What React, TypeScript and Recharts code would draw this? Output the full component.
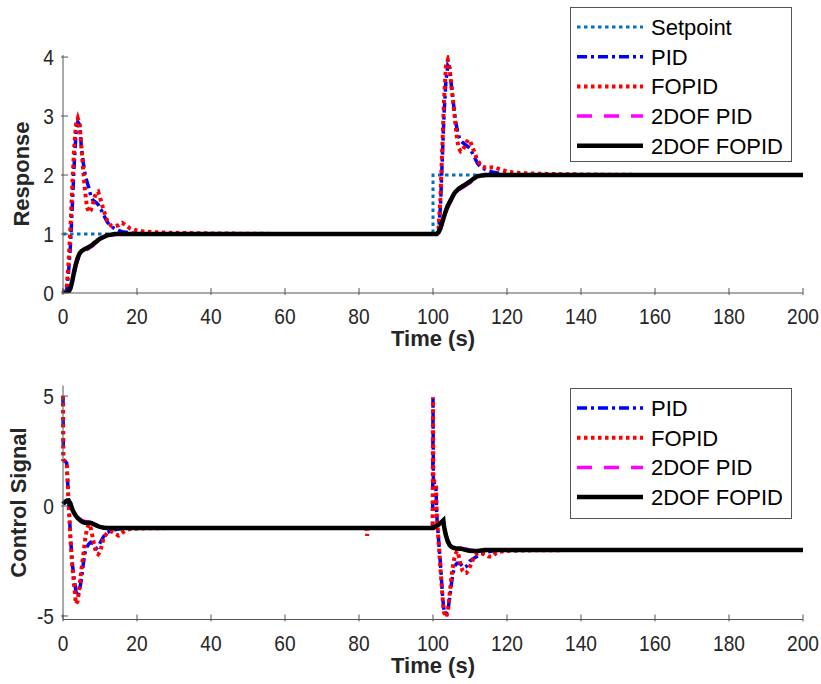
import React from 'react';
import { LineChart, Line, XAxis, YAxis, Legend } from 'recharts';

// ticks
const timeTicks = [0, 20, 40, 60, 80, 100, 120, 140, 160, 180, 200];
const responseTicks = [0, 1, 2, 3, 4];
const controlTicks = [-5, 0, 5];

// setpoint (step at t = 100)
const setpointTime = [0, 100, 100, 200];
const setpointValue = [1, 1, 2, 2];

// step responses
const responseTime = [
  0, 1, 1.5, 2, 2.5, 3, 3.5, 4, 4.5, 5, 5.5, 6, 6.5, 7, 7.5, 8, 8.5, 9, 9.5, 10,
  11, 12, 13, 14, 15, 16, 17, 18,
  20, 22, 25, 30, 40, 60, 80, 100,
  101, 101.5, 102, 102.5, 103, 103.5, 104, 104.5, 105, 105.5, 106, 106.5, 107, 107.5, 108, 108.5, 109, 109.5, 110,
  111, 112, 113, 114, 115, 116, 117, 118,
  120, 122, 125, 130, 140, 160, 180, 200,
];
const pidResponse = [
  0, 0.05, 0.35, 0.8, 1.45, 2.15, 2.7, 2.9, 2.85, 2.45, 2.2, 2.0, 1.88, 1.78, 1.65, 1.58, 1.55, 1.53, 1.5, 1.45,
  1.32, 1.2, 1.13, 1.09, 1.06, 1.04, 1.03, 1.02,
  1.01, 1, 1, 1, 1, 1, 1, 1,
  1, 1.05, 1.45, 2.25, 3.05, 3.6, 3.86, 3.82, 3.5, 3.23, 2.95, 2.78, 2.65, 2.58, 2.55, 2.53, 2.5, 2.48, 2.45,
  2.33, 2.2, 2.13, 2.1, 2.07, 2.05, 2.04, 2.03,
  2.01, 2, 2, 2, 2, 2, 2, 2,
];
const fopidResponse = [
  0, 0.1, 0.5, 1.1, 1.8, 2.45, 2.85, 2.96, 2.85, 2.45, 2.05, 1.7, 1.45, 1.37, 1.4, 1.5, 1.62, 1.7, 1.72, 1.62,
  1.4, 1.22, 1.14, 1.13, 1.15, 1.19, 1.15, 1.1,
  1.06, 1.04, 1.03, 1.02, 1.01, 1, 1, 1,
  1, 1.1, 1.6, 2.45, 3.3, 3.85, 3.95, 3.8, 3.5, 3.2, 2.9, 2.6, 2.45, 2.4, 2.42, 2.48, 2.55, 2.6, 2.58,
  2.42, 2.25, 2.16, 2.13, 2.12, 2.13, 2.12, 2.1,
  2.06, 2.04, 2.03, 2.02, 2.01, 2, 2, 2,
];
const twoDofPidResponse = [
  0, 0, 0.01, 0.06, 0.17, 0.32, 0.46, 0.56, 0.64, 0.69, 0.71, 0.73, 0.74, 0.76, 0.78, 0.8, 0.83, 0.86, 0.88, 0.9,
  0.94, 0.97, 0.98, 0.99, 0.995, 1, 1, 1,
  1, 1, 1, 1, 1, 1, 1, 1,
  1, 1.02, 1.08, 1.17, 1.27, 1.37, 1.45, 1.52, 1.58, 1.64, 1.69, 1.72, 1.75, 1.77, 1.79, 1.81, 1.83, 1.85, 1.87,
  1.92, 1.96, 1.98, 1.99, 1.995, 2, 2, 2,
  2, 2, 2, 2, 2, 2, 2, 2,
];
const twoDofFopidResponse = [
  0, 0, 0.02, 0.08, 0.2, 0.36, 0.5, 0.6, 0.67, 0.71, 0.73, 0.75, 0.76, 0.78, 0.8, 0.82, 0.85, 0.87, 0.9, 0.92,
  0.95, 0.98, 0.99, 1, 1, 1, 1, 1,
  1, 1, 1, 1, 1, 1, 1, 1,
  1, 1.03, 1.1, 1.2, 1.3, 1.4, 1.48, 1.54, 1.6, 1.66, 1.71, 1.74, 1.77, 1.79, 1.81, 1.83, 1.85, 1.87, 1.89,
  1.94, 1.98, 1.99, 2, 2, 2, 2, 2,
  2, 2, 2, 2, 2, 2, 2, 2,
];

// control signals
const controlTime = [
  0, 0.1, 0.5, 1, 1.5, 2, 2.5, 3, 3.5, 4, 4.5, 5, 5.5, 6, 6.5, 7, 7.5, 8, 8.5, 9, 9.5, 10,
  11, 12, 13, 14, 15, 16, 17, 18, 20, 25, 30, 40, 60, 80,
  82, 82.2, 82.4, 90, 99.9,
  100, 100.1, 100.8, 101, 101.5, 102, 102.5, 102.8, 103, 103.5, 104, 104.5, 105, 105.5, 106, 106.5, 107, 107.5, 108, 108.5, 109, 109.5, 110,
  111, 112, 113, 114, 115, 116, 117, 118, 120, 125, 130, 140, 160, 180, 200,
];
const pidControl = [
  5, 2.1, 2.05, 1.95, 0.3, -1.3, -2.6, -3.3, -3.9, -4.1, -3.8, -3.3, -2.6, -2.1, -1.85, -1.72, -1.65, -1.68, -1.8, -1.93, -1.85, -1.68,
  -1.38, -1.2, -1.13, -1.08, -1.05, -1.03, -1.02, -1.01, -1, -1, -1, -1, -1, -1,
  -1, -1, -1, -1, -1,
  4.9, 1.1, 0.9, -0.4, -1.5, -2.6, -3.9, -4.5, -4.75, -4.9, -4.75, -4.2, -3.5, -3.0, -2.7, -2.6, -2.6, -2.65, -2.75, -2.8, -2.75, -2.65, -2.5,
  -2.38, -2.28, -2.2, -2.13, -2.08, -2.05, -2.03, -2.02, -2.01, -2, -2, -2, -2, -2, -2,
];
const fopidControl = [
  5, 2.1, 2.05, 1.95, 0.2, -1.5, -2.7, -3.6, -4.45, -4.3, -3.6, -2.85, -2.2, -1.5, -1.0, -0.82, -1.0, -1.4, -1.85, -2.12, -2.2, -2.1,
  -1.45, -1.2, -1.15, -1.25, -1.35, -1.22, -1.1, -1.05, -1.02, -1.01, -1, -1, -1, -1,
  -1, -1.35, -1, -1, -1,
  4.95, 1.2, 1.0, -0.3, -1.6, -2.8, -4.0, -4.6, -4.85, -5.05, -4.85, -4.0, -3.2, -2.6, -2.2, -2.05, -2.3, -2.7, -2.95, -3.05, -3.05, -2.95, -2.75,
  -2.35, -2.15, -2.12, -2.2, -2.3, -2.3, -2.15, -2.08, -2.04, -2.02, -2.01, -2, -2, -2, -2,
];
const twoDofPidControl = [
  0.09, 0.11, 0.17, 0.24, 0.25, 0.13, -0.12, -0.28, -0.4, -0.5, -0.58, -0.64, -0.68, -0.7, -0.72, -0.73, -0.75, -0.78, -0.82, -0.86, -0.9, -0.93,
  -0.97, -0.99, -1, -1, -1, -1, -1, -1, -1, -1, -1, -1, -1, -1,
  -1, -1, -1, -1, -1,
  -1, -1, -0.92, -0.9, -0.85, -0.78, -0.7, -0.66, -0.9, -1.3, -1.56, -1.72, -1.8, -1.85, -1.87, -1.88, -1.9, -1.91, -1.93, -1.95, -1.97, -1.98, -2.0,
  -2.02, -2.02, -2.01, -2, -2, -2, -2, -2, -2, -2, -2, -2, -2, -2, -2,
];
const twoDofFopidControl = [
  0.09, 0.11, 0.17, 0.24, 0.25, 0.12, -0.15, -0.32, -0.45, -0.55, -0.63, -0.7, -0.74, -0.76, -0.76, -0.76, -0.77, -0.8, -0.84, -0.88, -0.92, -0.95,
  -0.99, -1, -1, -1, -1, -1, -1, -1, -1, -1, -1, -1, -1, -1,
  -1, -1, -1, -1, -1,
  -1, -1, -0.92, -0.9, -0.85, -0.78, -0.7, -0.65, -0.95, -1.35, -1.62, -1.78, -1.86, -1.9, -1.92, -1.93, -1.93, -1.94, -1.96, -1.98, -2.0, -2.02, -2.03,
  -2.05, -2.04, -2.02, -2, -2, -2, -2, -2, -2, -2, -2, -2, -2, -2, -2,
];

const setpointRows = setpointTime.map((t, i) => ({ t, setpoint: setpointValue[i] }));
const responseRows = responseTime.map((t, i) => ({
  t,
  pid: pidResponse[i],
  fopid: fopidResponse[i],
  twoDofPid: twoDofPidResponse[i],
  twoDofFopid: twoDofFopidResponse[i],
}));
const controlRows = controlTime.map((t, i) => ({
  t,
  pid: pidControl[i],
  fopid: fopidControl[i],
  twoDofPid: twoDofPidControl[i],
  twoDofFopid: twoDofFopidControl[i],
}));

const seriesStyle: Record<string, { name: string; color: string; width: number; dash?: string }> = {
  setpoint: { name: 'Setpoint', color: '#0072BD', width: 3, dash: '3.5 3.5' },
  pid: { name: 'PID', color: '#0000FF', width: 3.5, dash: '10 4 3 4' },
  fopid: { name: 'FOPID', color: '#FF0000', width: 4, dash: '3.5 3.5' },
  twoDofPid: { name: '2DOF PID', color: '#FF00FF', width: 3.5, dash: '15 12' },
  twoDofFopid: { name: '2DOF FOPID', color: '#000000', width: 4.5 },
};

const ink = '#262626';
const frame = '#555555';
const font = '"Liberation Sans", Arial, Helvetica, sans-serif';

const BottomTick = (props: any) => {
  const { x, y, payload } = props;
  return (
    <g>
      <line x1={x} y1={y} x2={x} y2={y - 7} stroke={frame} />
      <text transform={`translate(${x},${y + 29}) scale(0.87,1)`} textAnchor="middle" fontSize={22} fill={ink} fontFamily={font}>
        {payload.value}
      </text>
    </g>
  );
};
const TopTick = (props: any) => {
  const { x, y } = props;
  return <line x1={x} y1={y} x2={x} y2={y + 7} stroke={frame} />;
};
const LeftTick = (props: any) => {
  const { x, y, payload } = props;
  return (
    <g>
      <line x1={x} y1={y} x2={x + 7} y2={y} stroke={frame} />
      <text transform={`translate(${x - 7},${y + 8}) scale(0.87,1)`} textAnchor="end" fontSize={22} fill={ink} fontFamily={font}>
        {payload.value}
      </text>
    </g>
  );
};
const RightTick = (props: any) => {
  const { x, y } = props;
  return <line x1={x} y1={y} x2={x - 7} y2={y} stroke={frame} />;
};

const xTitle = (p: any) => {
  const vb = p.viewBox;
  return (
    <text x={vb.x + vb.width / 2} y={vb.y + 53} textAnchor="middle" fontSize={22} fontWeight="bold" fill={ink} fontFamily={font}>
      Time (s)
    </text>
  );
};
const yTitle = (text: string, cx: number) => (p: any) => {
  const vb = p.viewBox;
  const cy = vb.y + vb.height / 2;
  return (
    <text x={cx} y={cy} transform={`rotate(-90 ${cx} ${cy})`} dy={7} textAnchor="middle" fontSize={22} fontWeight="bold" fill={ink} fontFamily={font}>
      {text}
    </text>
  );
};

const LegendBox = ({ keys, width, height }: { keys: string[]; width: number; height: number }) => (
  <svg width={width} height={height} style={{ display: 'block' }}>
    <rect x={0.5} y={0.5} width={width - 1} height={height - 1} fill="#fff" stroke={frame} />
    {keys.map((key, i) => {
      const s = seriesStyle[key];
      const cy = 20 + i * 29.7;
      return (
        <g key={key}>
          <line x1={7} x2={73} y1={cy} y2={cy} stroke={s.color} strokeWidth={s.width} strokeDasharray={s.dash} />
          <text x={81} y={cy + 8} fontSize={22} fill="#000" fontFamily={font}>
            {s.name}
          </text>
        </g>
      );
    })}
  </svg>
);

const seriesLine = (key: string, data?: any[]) => {
  const s = seriesStyle[key];
  return (
    <Line
      key={key}
      data={data}
      type="linear"
      dataKey={key}
      name={s.name}
      stroke={s.color}
      strokeWidth={s.width}
      strokeDasharray={s.dash}
      dot={false}
      activeDot={false}
      isAnimationActive={false}
    />
  );
};

const frameAxes = (yDomain: number[], yTicks: number[]) => [
  <XAxis key="xt" xAxisId="top" orientation="top" type="number" dataKey="t" domain={[0, 200]} ticks={timeTicks} interval={0} height={0} tickSize={0} tickLine={false} tick={<TopTick />} stroke={frame} />,
  <YAxis key="yr" yAxisId="right" orientation="right" type="number" domain={yDomain} ticks={yTicks} interval={0} width={0} tickSize={0} tickLine={false} tick={<RightTick />} stroke={frame} allowDataOverflow />,
];

export default function App() {
  return (
    <div style={{ position: 'absolute', left: 0, top: 0, width: 821, height: 684, background: '#fff' }}>
      <div style={{ position: 'absolute', left: 0, top: 0 }}>
        <LineChart width={821} height={355} data={responseRows} margin={{ top: 55, right: 18, bottom: 0, left: 0 }}>
          <XAxis type="number" dataKey="t" domain={[0, 200]} ticks={timeTicks} interval={0} height={62} tickSize={0} tickLine={false} tick={<BottomTick />} stroke={frame} label={{ content: xTitle }} />
          <YAxis type="number" domain={[0, 4.035]} ticks={responseTicks} interval={0} width={63} tickSize={0} tickLine={false} tick={<LeftTick />} stroke={frame} allowDataOverflow label={{ content: yTitle('Response', 22) }} />
          {frameAxes([0, 4.035], responseTicks)}
          {seriesLine('setpoint', setpointRows)}
          {seriesLine('pid')}
          {seriesLine('fopid')}
          {seriesLine('twoDofPid')}
          {seriesLine('twoDofFopid')}
          <Legend
            layout="horizontal"
            align="center"
            verticalAlign="middle"
            wrapperStyle={{ left: 570, top: 7, width: 222, height: 155 }}
            content={() => <LegendBox keys={['setpoint', 'pid', 'fopid', 'twoDofPid', 'twoDofFopid']} width={222} height={155} />}
          />
        </LineChart>
      </div>
      <div style={{ position: 'absolute', left: 0, top: 355 }}>
        <LineChart width={821} height={329} data={controlRows} margin={{ top: 30.5, right: 18, bottom: 0, left: 0 }}>
          <XAxis type="number" dataKey="t" domain={[0, 200]} ticks={timeTicks} interval={0} height={64.5} tickSize={0} tickLine={false} tick={<BottomTick />} stroke={frame} label={{ content: xTitle }} />
          <YAxis type="number" domain={[-5.16, 5.48]} ticks={controlTicks} interval={0} width={63} tickSize={0} tickLine={false} tick={<LeftTick />} stroke={frame} allowDataOverflow label={{ content: yTitle('Control Signal', 19) }} />
          {frameAxes([-5.16, 5.48], controlTicks)}
          {seriesLine('pid')}
          {seriesLine('fopid')}
          {seriesLine('twoDofPid')}
          {seriesLine('twoDofFopid')}
          <Legend
            layout="horizontal"
            align="center"
            verticalAlign="middle"
            wrapperStyle={{ left: 570, top: 33, width: 222, height: 131 }}
            content={() => <LegendBox keys={['pid', 'fopid', 'twoDofPid', 'twoDofFopid']} width={222} height={131} />}
          />
        </LineChart>
      </div>
    </div>
  );
}
